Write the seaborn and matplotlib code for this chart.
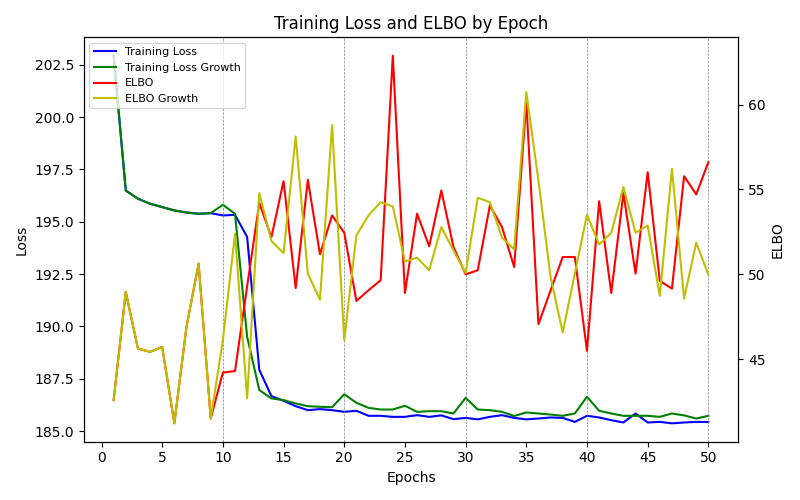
import matplotlib
matplotlib.use("Agg")
import matplotlib.pyplot as plt
import seaborn as sns
import pandas as pd

epochs = list(range(1, 51))

training_loss = [202.93, 196.49, 196.10, 195.86, 195.70, 195.54, 195.44, 195.38, 195.41, 195.30,
                 195.33, 194.27, 187.93, 186.67, 186.45, 186.19, 186.00, 186.05, 186.00, 185.92,
                 185.97, 185.73, 185.73, 185.68, 185.68, 185.76, 185.68, 185.75, 185.57, 185.63,
                 185.56, 185.68, 185.76, 185.63, 185.56, 185.60, 185.65, 185.63, 185.44, 185.73,
                 185.65, 185.52, 185.41, 185.84, 185.41, 185.44, 185.37, 185.41, 185.44, 185.43]

training_loss_growth = [202.93, 196.49, 196.10, 195.86, 195.70, 195.54, 195.44, 195.38, 195.41, 195.81,
                        195.38, 189.50, 186.96, 186.56, 186.48, 186.32, 186.19, 186.16, 186.14, 186.76,
                        186.35, 186.11, 186.03, 186.03, 186.21, 185.92, 185.95, 185.95, 185.84, 186.59,
                        186.03, 186.00, 185.92, 185.72, 185.89, 185.84, 185.79, 185.73, 185.84, 186.64,
                        185.97, 185.84, 185.73, 185.73, 185.73, 185.68, 185.84, 185.75, 185.60, 185.73]

elbo = [42.59, 48.96, 45.63, 45.43, 45.72, 41.22, 46.90, 50.63, 41.51, 44.21,
        44.30, 49.30, 54.20, 52.19, 55.49, 49.19, 55.57, 51.18, 53.47, 52.45,
        48.43, 49.06, 49.65, 62.88, 48.90, 53.57, 51.65, 54.94, 51.61, 50.00,
        50.24, 54.06, 52.78, 50.43, 60.14, 47.06, 49.05, 51.02, 51.02, 45.49,
        54.31, 48.90, 54.78, 50.04, 56.02, 49.61, 49.16, 55.78, 54.71, 56.61]

elbo_growth = [42.59, 48.96, 45.63, 45.43, 45.72, 41.22, 46.90, 50.63, 41.51, 46.12,
               52.39, 42.69, 54.78, 51.96, 51.25, 58.12, 50.04, 48.51, 58.80, 46.12,
               52.29, 53.47, 54.25, 54.00, 50.76, 50.98, 50.24, 52.78, 51.41, 50.08,
               54.51, 54.25, 52.16, 51.47, 60.73, 55.53, 49.84, 46.57, 50.04, 53.51,
               51.76, 52.45, 55.14, 52.45, 52.88, 48.73, 56.21, 48.57, 51.86, 49.98]

df = pd.DataFrame({
    "Epoch": epochs,
    "Training Loss": training_loss,
    "Training Loss Growth": training_loss_growth,
    "ELBO": elbo,
    "ELBO Growth": elbo_growth,
})

fig, ax1 = plt.subplots(figsize=(8, 5), dpi=100)
ax2 = ax1.twinx()

sns.lineplot(data=df, x="Epoch", y="Training Loss", ax=ax1, color="b", label="Training Loss", legend=False)
sns.lineplot(data=df, x="Epoch", y="Training Loss Growth", ax=ax1, color="g", label="Training Loss Growth", legend=False)
sns.lineplot(data=df, x="Epoch", y="ELBO", ax=ax2, color="r", label="ELBO", legend=False)
sns.lineplot(data=df, x="Epoch", y="ELBO Growth", ax=ax2, color="y", label="ELBO Growth", legend=False)

for e in epochs:
    if e % 10 == 0:
        ax1.axvline(e, color="gray", linestyle="--", linewidth=0.5)

ax1.set_xlabel("Epochs")
ax1.set_ylabel("Loss")
ax2.set_ylabel("ELBO")
ax1.set_xticks(range(0, 51, 5))
ax1.set_title("Training Loss and ELBO by Epoch")

h1, l1 = ax1.get_legend_handles_labels()
h2, l2 = ax2.get_legend_handles_labels()
ax2.legend(h1 + h2, l1 + l2, loc="upper left", fontsize=8)

fig.tight_layout()
fig.savefig("out.png", dpi=100)
